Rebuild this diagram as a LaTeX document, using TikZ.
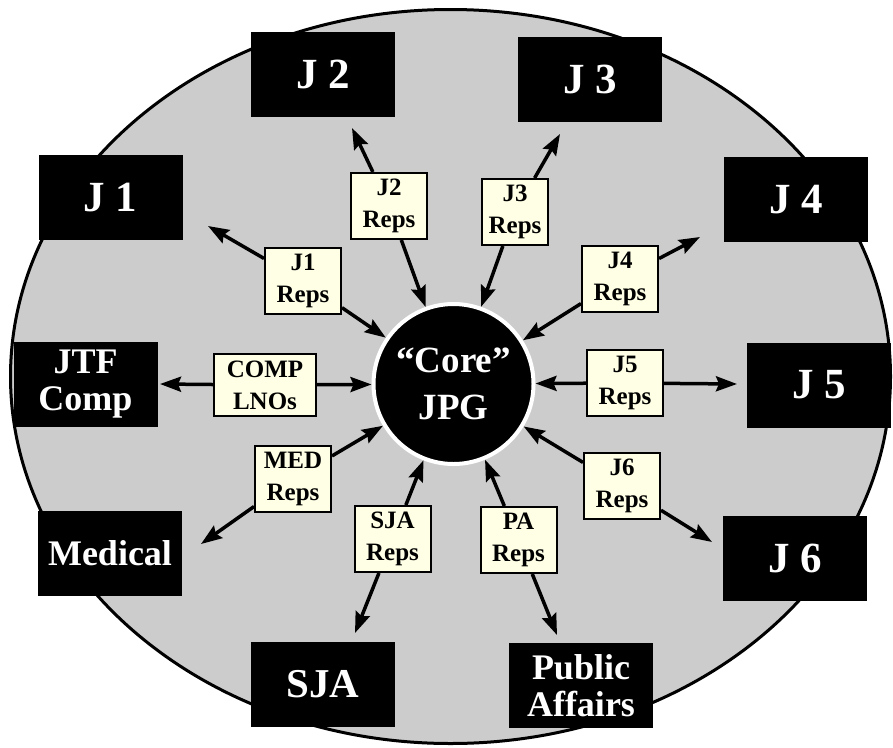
\documentclass[tikz,border=0pt]{standalone}
\usepackage{fontspec}
\setmainfont{Liberation Serif}
\usetikzlibrary{arrows.meta}
\definecolor{ring}{HTML}{CCCCCC}
\definecolor{repfill}{HTML}{FFFFE6}
\tikzset{
  dept/.style = {rectangle, fill=black, text=white, align=center, inner sep=0pt,
                 minimum width=144pt, minimum height=85pt,
                 font=\bfseries\fontsize{36}{37}\selectfont},
  jlbl/.style = {font=\bfseries\fontsize{43}{44}\selectfont},
  reps/.style = {rectangle, draw=black, line width=2pt, fill=repfill, align=center,
                 inner sep=1pt, minimum width=76pt, minimum height=66pt,
                 font=\bfseries\fontsize{25}{32}\selectfont},
  hub/.style  = {circle, fill=black, draw=white, line width=4pt, text=white,
                 align=center, minimum size=160pt, inner sep=0pt,
                 font=\bfseries\fontsize{37}{47}\selectfont},
  flow/.style = {-{Stealth[length=21pt,width=15pt,inset=3pt]}, line width=3.5pt, draw=black},
}

\begin{document}
\begin{tikzpicture}[x=1pt, y=-1pt]
  \useasboundingbox (0,0) rectangle (893,747);
  \draw[line width=3pt, fill=ring] (450.5,376.5) ellipse [x radius=440, y radius=367];

  \node[hub] (core) at (453.5,384) {“Core”\\JPG};

  % staff sections round the ring
  \node[dept, jlbl] (j1)  at (110.5,197.5) {J 1};
  \node[dept, jlbl] (j2)  at (323,74.5)    {J 2};
  \node[dept, jlbl] (j3)  at (590,79.5)    {J 3};
  \node[dept, jlbl] (j4)  at (796,199.5)   {J 4};
  \node[dept]       (jtf) at (85.5,384.5)  {JTF\\Comp};
  \node[dept, jlbl] (j5)  at (819,385)     {J 5};
  \node[dept]       (med) at (110,553)     {Medical};
  \node[dept, jlbl] (j6)  at (795,558.5)   {J 6};
  \node[dept, font=\bfseries\fontsize{41}{42}\selectfont] (sja) at (323,684.5) {SJA};
  \node[dept]       (pa)  at (581,685.5)   {Public\\Affairs};

  % representatives
  \node[reps] (j1r)  at (303,281)   {J1\\Reps};
  \node[reps] (j2r)  at (389,206)   {J2\\Reps};
  \node[reps, minimum width=66pt] (j3r) at (515,212) {J3\\Reps};
  \node[reps] (j4r)  at (620,279)   {J4\\Reps};
  \node[reps, minimum width=102pt, minimum height=62pt] (compr) at (265,385) {COMP\\LNOs};
  \node[reps] (j5r)  at (625,383)   {J5\\Reps};
  \node[reps] (medr) at (293,479)   {MED\\Reps};
  \node[reps] (j6r)  at (622,486)   {J6\\Reps};
  \node[reps] (sjar) at (392.5,539) {SJA\\Reps};
  \node[reps] (par)  at (518.5,540) {PA\\Reps};

  \coordinate (j1tip)  at (208,226);
  \coordinate (j2tip)  at (352,128);
  \coordinate (j3tip)  at (560,134);
  \coordinate (j4tip)  at (700,237);
  \coordinate (jtftip) at (160,384);
  \coordinate (j5tip)  at (737,384);
  \coordinate (medtip) at (201,544);
  \coordinate (j6tip)  at (712,542);
  \coordinate (sjatip) at (355,633);
  \coordinate (patip)  at (557,635);

  \draw[flow] (j1r) -- (j1tip);
  \draw[flow] (j1r) -- (core);
  \draw[flow] (j2r) -- (j2tip);
  \draw[flow] (j2r) -- (core);
  \draw[flow] (j3r) -- (j3tip);
  \draw[flow] (j3r) -- (core);
  \draw[flow] (j4r) -- (j4tip);
  \draw[flow] (j4r) -- (core);
  \draw[flow] (compr) -- (jtftip);
  \draw[flow] (compr) -- (core);
  \draw[flow] (j5r) -- (j5tip);
  \draw[flow] (j5r) -- (core);
  \draw[flow] (medr) -- (medtip);
  \draw[flow] (medr) -- (core);
  \draw[flow] (j6r) -- (j6tip);
  \draw[flow] (j6r) -- (core);
  \draw[flow] (sjar) -- (sjatip);
  \draw[flow] (sjar) -- (core);
  \draw[flow] (par) -- (patip);
  \draw[flow] (par) -- (core);
\end{tikzpicture}
\end{document}
